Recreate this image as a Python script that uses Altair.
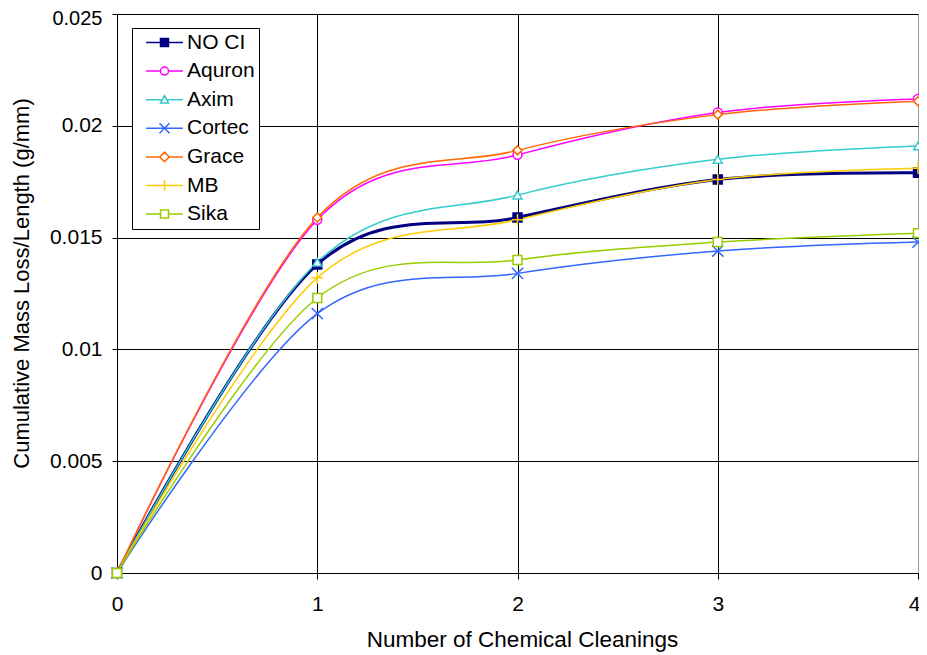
import altair as alt
import pandas as pd

cleanings = [0, 1, 2, 3, 4]
series_names = ["NO CI", "Aquron", "Axim", "Cortec", "Grace", "MB", "Sika"]
no_ci = [0.0, 0.0138, 0.0159, 0.0176, 0.0179]
aquron = [0.0, 0.0158, 0.0187, 0.0206, 0.0212]
axim = [0.0, 0.0139, 0.0169, 0.0185, 0.0191]
cortec = [0.0, 0.0116, 0.0134, 0.0144, 0.0148]
grace = [0.0, 0.0159, 0.0189, 0.0205, 0.0211]
mb = [0.0, 0.0132, 0.0158, 0.0176, 0.0181]
sika = [0.0, 0.0123, 0.0140, 0.0148, 0.0152]

colors = ["#000080", "#FF00FF", "#33CCCC", "#3366FF", "#FF6600", "#FFCC00", "#99CC00"]
fills = ["#000080", "white", "white", "white", "white", "white", "white"]
marker_shapes = [
    "square",
    "circle",
    "triangle-up",
    "M-1.25,-1.25L1.25,1.25M-1.25,1.25L1.25,-1.25",
    "diamond",
    "M-1.3,0L1.3,0M0,-1.3L0,1.3",
    "square",
]
legend_shapes = [
    "M-4.6,0L-1,0M1,0L4.6,0M-1,-1L1,-1L1,1L-1,1Z",
    "M-4.6,0L-1,0M1,0L4.6,0M-1,0A1,1,0,1,0,1,0A1,1,0,1,0,-1,0Z",
    "M-4.6,0L-0.55,0M0.55,0L4.6,0M-1,0.85L0,-1L1,0.85Z",
    "M-4.6,0L4.6,0M-1.25,-1.25L1.25,1.25M-1.25,1.25L1.25,-1.25",
    "M-4.6,0L-1.2,0M1.2,0L4.6,0M0,-1.2L1.2,0L0,1.2L-1.2,0Z",
    "M-4.6,0L4.6,0M0,-1.3L0,1.3",
    "M-4.6,0L-1,0M1,0L4.6,0M-1,-1L1,-1L1,1L-1,1Z",
]

y_ticks = [0, 0.005, 0.01, 0.015, 0.02, 0.025]

values = {
    "NO CI": no_ci, "Aquron": aquron, "Axim": axim, "Cortec": cortec,
    "Grace": grace, "MB": mb, "Sika": sika,
}
rows = [
    {"cleanings": c, "loss": v, "series": s}
    for s in series_names
    for c, v in zip(cleanings, values[s])
]
df = pd.DataFrame(rows)

FONT = "Liberation Sans"

x_enc = alt.X(
    "cleanings:Q",
    scale=alt.Scale(domain=[0, 4], nice=False),
    axis=alt.Axis(
        values=cleanings,
        format="d",
        title="Number of Chemical Cleanings",
        grid=True,
        gridColor={"condition": {"test": "datum.value === 4", "value": "#999999"}, "value": "#000000"},
        tickSize=6,
        labelPadding=14,
        labelFlush=False,
        labelOffset={"condition": {"test": "datum.value === 4", "value": -4}, "value": 0},
        titlePadding=14,
        titleFontSize=22.5,
        titleX=405,
    ),
)
y_enc = alt.Y(
    "loss:Q",
    scale=alt.Scale(domain=[0, 0.025], nice=False),
    axis=alt.Axis(
        values=y_ticks,
        format="~g",
        title="Cumulative Mass Loss/Length (g/mm)",
        grid=True,
        gridColor="#000000",
        tickSize=5,
        labelPadding=10,
        labelFlush=False,
        labelOffset={"condition": {"test": "datum.value > 0.024", "value": 4}, "value": 0},
        labelFontSize={"condition": {"test": "datum.value > 0.024", "value": 20}, "value": 21},
        titlePadding=16,
        titleFontSize=22,
        titleY=269,
    ),
)

color_scale = alt.Scale(domain=series_names, range=colors)
fill_scale = alt.Scale(domain=series_names, range=fills)

base = alt.Chart(df)

lines = base.mark_line(interpolate="cardinal").encode(
    x=x_enc,
    y=y_enc,
    color=alt.Color("series:N", scale=color_scale, legend=None),
    strokeWidth=alt.condition(alt.datum.series == "NO CI", alt.value(3), alt.value(1.5)),
)

markers = base.mark_point(filled=False, size=80, strokeWidth=1.5, opacity=1).encode(
    x=x_enc,
    y=y_enc,
    color=alt.Color("series:N", scale=color_scale, legend=None),
    fill=alt.Fill("series:N", scale=fill_scale, legend=None),
    shape=alt.Shape("series:N", scale=alt.Scale(domain=series_names, range=marker_shapes), legend=None),
)

legend_kw = dict(
    title=None,
    orient="none",
    legendX=15,
    legendY=14,
    padding=4,
    symbolOffset=18,
    labelOffset=12,
    rowPadding=6.6,
    labelFont=FONT,
    labelFontSize=21,
    labelColor="#000000",
    fillColor="white",
    strokeColor="#000000",
    symbolSize=64,
    symbolStrokeWidth=1.5,
    symbolOpacity=1,
)

legend_layer = base.transform_filter("false").mark_point(filled=False, size=64, strokeWidth=1.5, opacity=1).encode(
    x=x_enc,
    y=y_enc,
    color=alt.Color("series:N", scale=color_scale, legend=alt.Legend(**legend_kw)),
    fill=alt.Fill("series:N", scale=fill_scale, legend=alt.Legend(**legend_kw)),
    shape=alt.Shape("series:N", scale=alt.Scale(domain=series_names, range=legend_shapes),
                    legend=alt.Legend(**legend_kw)),
)

chart = (
    alt.layer(lines, markers, legend_layer)
    .resolve_scale(color="independent", fill="independent", shape="independent")
    .properties(
        width=801,
        height=559,
        autosize=alt.AutoSizeParams(type="none"),
        padding={"left": 109, "top": 6, "right": 1, "bottom": 80},
    )
    .configure_view(stroke="#999999", strokeWidth=1)
    .configure_axis(
        labelFont=FONT,
        labelFontSize=21,
        labelColor="#000000",
        titleFont=FONT,
        titleFontSize=21,
        titleFontWeight="normal",
        titleColor="#000000",
        domainColor="#000000",
        tickColor="#000000",
        gridWidth=1,
        gridOpacity=1,
    )
)

chart.save("out.html", embed_options={"renderer": "svg", "actions": False})
